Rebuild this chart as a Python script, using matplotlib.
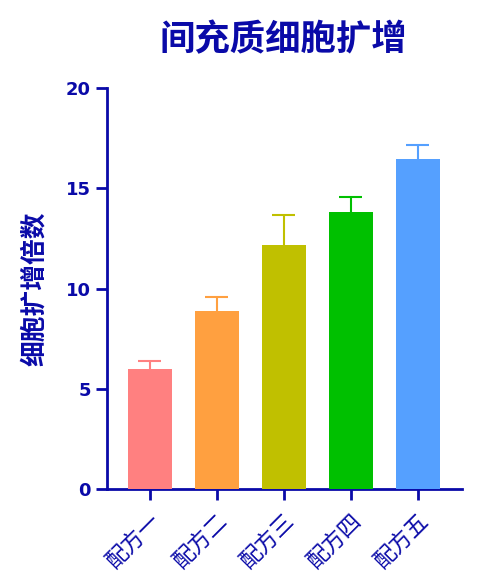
import matplotlib
matplotlib.use('Agg')
import matplotlib.pyplot as plt
import numpy as np

plt.rcParams['font.family'] = ['Noto Sans CJK SC', 'DejaVu Sans']

# 数据
groups = ['配方一', '配方二', '配方三', '配方四', '配方五']
means = [6.0, 8.9, 12.15, 13.8, 16.45]
errs = [0.4, 0.68, 1.52, 0.78, 0.72]
colors = ['#FF8080', '#FFA040', '#C0C000', '#00C000', '#55A0FF']

navy = '#0A0AA8'

fig = plt.figure(figsize=(4.9, 5.87), dpi=100)
ax = fig.add_axes([0.218, 0.167, 0.725, 0.683])

x = np.arange(len(groups))
tops = np.array(means) + np.array(errs)
ax.bar(x, means, width=0.66, color=colors, zorder=3)
# 只画上误差线
ax.vlines(x, means, tops, colors=colors, linewidth=1.5, zorder=2)
ax.hlines(tops, x - 0.17, x + 0.17, colors=colors, linewidth=1.5, zorder=2)

ax.set_xlim(-0.64, 4.66)
ax.set_ylim(0, 20)
ax.set_yticks([0, 5, 10, 15, 20])
ax.set_xticks(x)
ax.set_xticklabels(groups, rotation=45, ha='right', rotation_mode='anchor',
                   fontsize=16, color=navy)

for s in ['top', 'right']:
    ax.spines[s].set_visible(False)
for s in ['left', 'bottom']:
    ax.spines[s].set_color(navy)
    ax.spines[s].set_linewidth(2)
ax.tick_params(axis='both', colors=navy, width=2, length=8)
ax.tick_params(axis='x', pad=7)
for lab in ax.get_yticklabels():
    lab.set_fontsize(13)
    lab.set_fontweight('bold')
    lab.set_family(['DejaVu Sans'])

ax.set_ylabel('细胞扩增倍数', fontsize=18.5, fontweight='bold', color=navy, labelpad=13)
fig.text(0.578, 0.932, '间充质细胞扩增', ha='center', va='center', fontsize=25.5,
         fontweight='bold', color=navy)

fig.savefig('out.png', dpi=100)
